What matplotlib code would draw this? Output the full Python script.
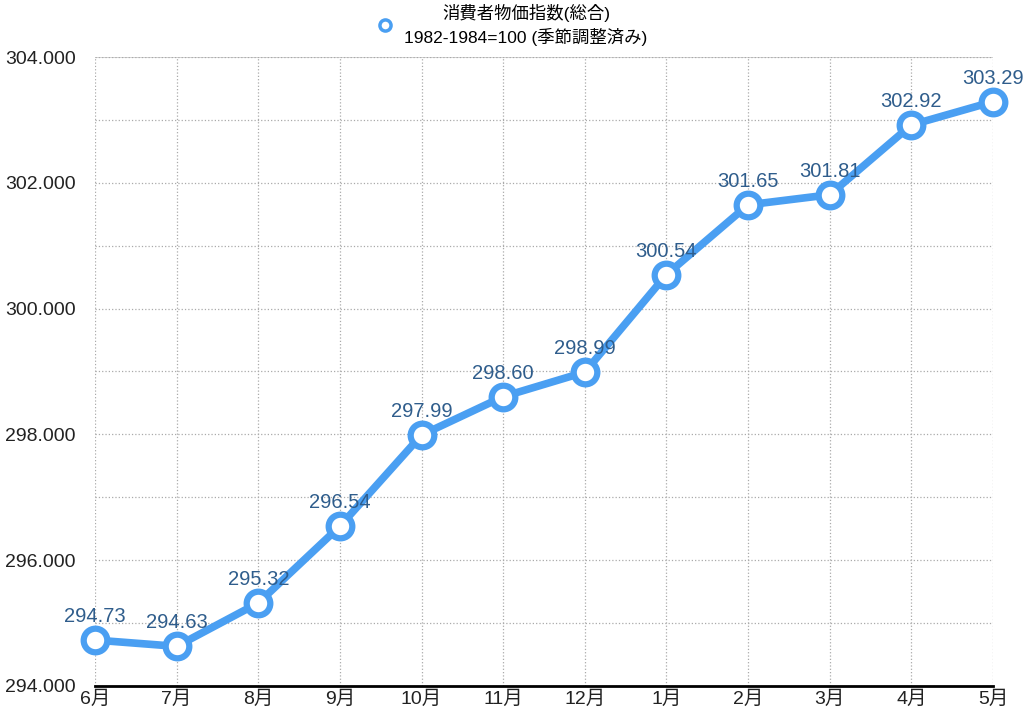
import matplotlib
matplotlib.use("Agg")
import matplotlib.pyplot as plt
from matplotlib.ticker import MultipleLocator, FormatStrFormatter

plt.rcParams['font.family'] = ['Liberation Sans', 'Noto Sans CJK JP', 'DejaVu Sans']

months = ['6月', '7月', '8月', '9月', '10月', '11月', '12月', '1月', '2月', '3月', '4月', '5月']
cpi = [294.73, 294.63, 295.32, 296.54, 297.99, 298.60, 298.99, 300.54, 301.65, 301.81, 302.92, 303.29]
series_label = '消費者物価指数(総合)\n1982-1984=100 (季節調整済み)'

line_col = '#4a9ff2'
text_col = '#2f5d8c'

fig = plt.figure(figsize=(10.24, 7.11), dpi=100)
ax = fig.add_axes([0.0928, 0.0352, 0.8769, 0.8846])

x = list(range(len(months)))
ln, = ax.plot(x, cpi, color=line_col, lw=5.5, marker='o', ms=17,
              mfc='white', mec=line_col, mew=4.5, label=series_label,
              zorder=3, clip_on=False)

for xi, v in zip(x, cpi):
    ax.annotate(f'{v:.2f}', (xi, v), xytext=(0, 10), textcoords='offset points',
                ha='center', va='bottom', fontsize=14.5, color=text_col, zorder=4)

ax.set_xlim(0, len(months) - 1)
ax.set_ylim(294, 304)
ax.set_xticks(x)
ax.set_xticklabels(months)
ax.yaxis.set_major_locator(MultipleLocator(2))
ax.yaxis.set_minor_locator(MultipleLocator(1))
ax.yaxis.set_major_formatter(FormatStrFormatter('%.3f'))
ax.tick_params(axis='both', which='both', length=0, labelsize=14, colors='#222222')
ax.tick_params(axis='x', pad=3)
ax.tick_params(axis='y', pad=14)

ax.grid(True, which='both', axis='both', color='#aaaaaa', ls=':', lw=0.9)
for s in ['left', 'right', 'top']:
    ax.spines[s].set_visible(False)
ax.spines['bottom'].set_color('black')
ax.spines['bottom'].set_linewidth(2)
ax.axhline(304, color='#cccccc', lw=1.2, zorder=1)

h = plt.Line2D([], [], color=line_col, marker='o', ls='none', ms=8, mfc='white', mec=line_col, mew=2.5)
fig.legend([h], [series_label], loc='upper center', bbox_to_anchor=(0.5, 1.017),
           frameon=False, fontsize=12.5, handletextpad=0.6, handlelength=1.0,
           labelspacing=0.2)
for t in fig.legends[0].get_texts():
    t.set_ha('center')
    t.set_linespacing(1.45)

fig.savefig('out.png', dpi=100)
